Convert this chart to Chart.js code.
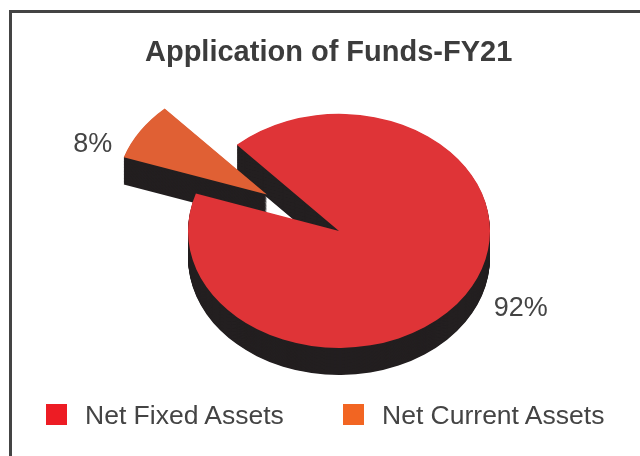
<!DOCTYPE html>
<html>
<head>
<meta charset="utf-8">
<title>Application of Funds-FY21</title>
<script src="https://cdn.jsdelivr.net/npm/chart.js@4.4.1/dist/chart.umd.min.js"></script>
<style>
  body { margin: 0; background: #fff; }
  #wrap { position: relative; width: 640px; height: 456px; overflow: hidden; font-family: "Liberation Sans", Arial, sans-serif; }
  #frame { position: absolute; left: 9px; top: 10px; right: -10px; bottom: -10px; border-left: 3px solid #444; border-top: 3px solid #444; }
  #chart { position: absolute; left: 0; top: 0; }
  #legend { position: absolute; left: 46px; top: 404px; display: flex; }
  .item { display: flex; align-items: center; width: 297px; height: 21px; }
  .box { width: 21px; height: 21px; margin-right: 18px; }
  .text { font-size: 26.5px; line-height: 26px; color: #444; white-space: nowrap; }
</style>
</head>
<body>
<div id="wrap">
  <div id="frame"></div>
  <canvas id="chart" width="640" height="456"></canvas>
  <div id="legend"></div>
</div>
<script>
const labels = ["Net Fixed Assets", "Net Current Assets"];
const shares = [92, 8];
const sliceColors = ["#df3437", "#e06034"];
const legendColors = ["#ed1c24", "#f26522"];
const explode = [0, 86];   // px each slice is pulled out from the centre

const tilt = 0.775;      // squash of the top face
const depth = 35;        // wall height, before squash
const sideColor = "#231f20";
const labelPad = 28;     // gap between the rim and the % text

function midAngle(arc) {
    return (arc.startAngle + arc.endAngle) / 2;
}

// draws the tilted pie: dark walls first, then the slice tops, then the % labels
const pie3d = {
    id: "pie3d",
    beforeDatasetsDraw(chart) {
        const ctx = chart.ctx;
        const arcs = chart.getDatasetMeta(0).data;
        const cx = arcs[0].x, cy = arcs[0].y;

        ctx.save();
        ctx.translate(cx, cy);
        ctx.scale(1, tilt);
        ctx.translate(-cx, -cy);

        const drawSlice = function (arc, i, el, dy) {
            const mid = midAngle(arc);
            ctx.save();
            ctx.translate(Math.cos(mid) * explode[i], Math.sin(mid) * explode[i] + dy);
            el.draw(ctx);
            ctx.restore();
        };

        for (let d = depth; d > 0; d--) {
            arcs.forEach(function (arc, i) {
                const wall = Object.create(arc);
                wall.options = Object.assign({}, arc.options, { backgroundColor: sideColor, borderWidth: 0 });
                drawSlice(arc, i, wall, d);
            });
        }
        arcs.forEach(function (arc, i) {
            drawSlice(arc, i, arc, 0);
        });
        ctx.restore();

        // % text beside the rim, at half wall height
        ctx.save();
        ctx.font = "27px 'Liberation Sans', Arial, sans-serif";
        ctx.fillStyle = "#444";
        ctx.textBaseline = "middle";
        arcs.forEach(function (arc, i) {
            const mid = midAngle(arc);
            const dist = explode[i] + arc.outerRadius;
            const x = cx + Math.cos(mid) * dist;
            const y = cy + Math.sin(mid) * dist * tilt + depth * tilt / 2;
            const right = Math.cos(mid) >= 0;
            ctx.textAlign = right ? "left" : "right";
            ctx.fillText(shares[i] + "%", x + (right ? labelPad : -labelPad), y);
        });
        ctx.restore();
        return false;
    },
};

new Chart(document.getElementById("chart"), {
    type: "pie",
    data: {
        labels: labels,
        datasets: [
            {
                data: shares,
                backgroundColor: sliceColors,
                borderWidth: 0,
            },
        ],
    },
    options: {
        responsive: false,
        animation: false,
        rotation: 317.4,
        radius: 151,
        layout: { padding: { left: 145, right: 107, top: 0, bottom: 75 } },
        plugins: {
            legend: { display: false },
            tooltip: { enabled: false },
            title: {
                display: true,
                text: "Application of Funds-FY21",
                align: "start",
                color: "#3c3c3c",
                font: { family: "'Liberation Sans', Arial, sans-serif", size: 29, weight: "bold" },
                padding: { top: 36, bottom: 10 },
            },
        },
    },
    plugins: [pie3d],
});

// legend below the pie
const legend = document.getElementById("legend");
labels.forEach(function (name, i) {
    const item = document.createElement("div");
    item.className = "item";
    const box = document.createElement("span");
    box.className = "box";
    box.style.background = legendColors[i];
    const text = document.createElement("span");
    text.className = "text";
    text.textContent = name;
    item.appendChild(box);
    item.appendChild(text);
    legend.appendChild(item);
});
</script>
</body>
</html>
